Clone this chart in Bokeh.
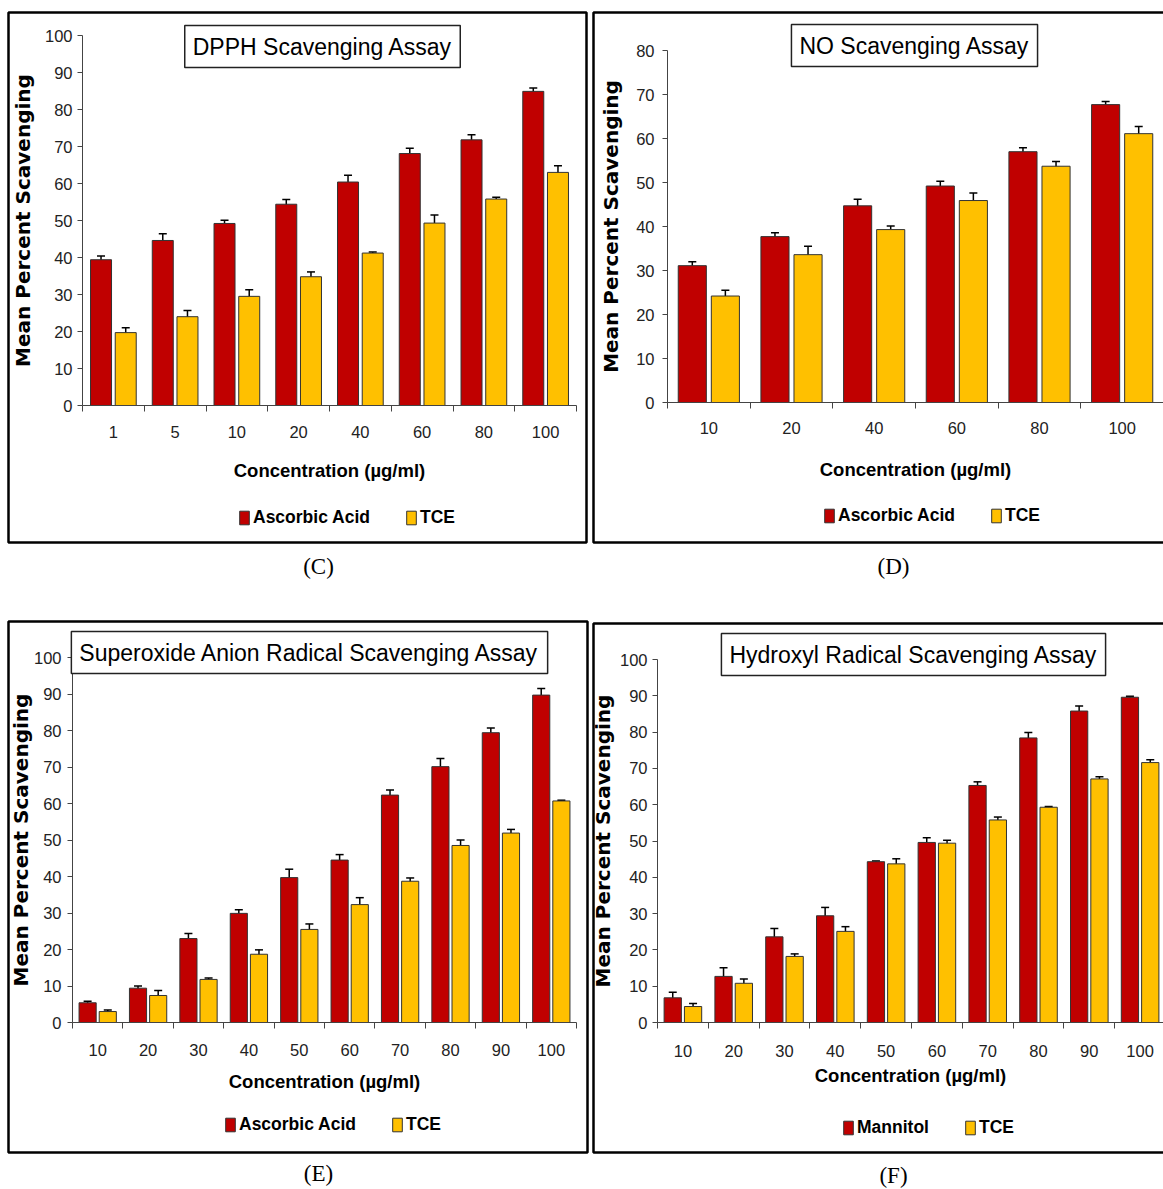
from bokeh.plotting import figure
from bokeh.models import (Range1d, FixedTicker, ColumnDataSource, Whisker, TeeHead,
                          Label, BoxAnnotation, Legend, LegendItem)
from bokeh.layouts import column, row
from bokeh.embed import file_html
from bokeh.resources import INLINE

# ---------------- data ----------------
# (C) DPPH
dpph_conc = ["1", "5", "10", "20", "40", "60", "80", "100"]
dpph_std = [39.4, 44.6, 49.2, 54.4, 60.4, 68.1, 71.8, 84.9]
dpph_std_err = [1.0, 1.8, 0.9, 1.3, 1.8, 1.4, 1.4, 0.9]
dpph_tce = [19.7, 24.0, 29.5, 34.8, 41.2, 49.3, 55.8, 63.0]
dpph_tce_err = [1.3, 1.7, 1.8, 1.3, 0.3, 2.2, 0.5, 1.8]

# (D) NO
no_conc = ["10", "20", "40", "60", "80", "100"]
no_std = [31.1, 37.7, 44.7, 49.2, 57.0, 67.7]
no_std_err = [0.9, 0.9, 1.5, 1.1, 0.9, 0.7]
no_tce = [24.2, 33.6, 39.3, 45.9, 53.7, 61.1]
no_tce_err = [1.3, 1.9, 0.8, 1.7, 1.1, 1.6]

# (E) Superoxide
sup_conc = ["10", "20", "30", "40", "50", "60", "70", "80", "90", "100"]
sup_std = [5.4, 9.4, 23.0, 29.9, 39.7, 44.5, 62.3, 70.1, 79.4, 89.7]
sup_std_err = [0.4, 0.6, 1.4, 1.0, 2.3, 1.5, 1.4, 2.2, 1.3, 1.8]
sup_tce = [3.0, 7.4, 11.8, 18.7, 25.5, 32.3, 38.7, 48.5, 51.9, 60.7]
sup_tce_err = [0.4, 1.4, 0.4, 1.2, 1.5, 1.9, 0.9, 1.5, 1.0, 0.2]

# (F) Hydroxyl
hyd_conc = ["10", "20", "30", "40", "50", "60", "70", "80", "90", "100"]
hyd_std = [6.8, 12.7, 23.6, 29.4, 44.3, 49.6, 65.3, 78.4, 85.8, 89.6]
hyd_std_err = [1.5, 2.4, 2.3, 2.3, 0.2, 1.3, 1.0, 1.5, 1.4, 0.3]
hyd_tce = [4.4, 10.8, 18.2, 25.1, 43.7, 49.4, 55.8, 59.3, 67.1, 71.6]
hyd_tce_err = [0.8, 1.2, 0.7, 1.3, 1.4, 0.8, 0.8, 0.2, 0.6, 0.8]

RED = "#C00000"
YEL = "#FFC000"
SANS = "Liberation Sans"


def make_panel(cats, std, std_err, tce, tce_err, std_name, title, tag, ymax, g):
    n = len(cats)
    W, H = g["w"], g["h"]
    # the frame covers the whole canvas; the axes sit at fixed locations inside it
    dx = n / (g["x1"] - g["x0"])
    dy = ymax / (g["y0"] - g["yt"])
    xr = Range1d(0.5 - g["x0"] * dx, 0.5 + (W - g["x0"]) * dx)
    yr = Range1d(-(H - g["y0"]) * dy, g["y0"] * dy)
    p = figure(width=W, height=H, x_range=xr, y_range=yr, output_backend="svg",
               toolbar_location=None, tools="", min_border=0)
    p.min_border_left = p.min_border_right = p.min_border_top = p.min_border_bottom = 0
    p.outline_line_color = None
    p.xgrid.visible = False
    p.ygrid.visible = False
    p.background_fill_color = "white"
    p.border_fill_color = "white"

    centers = list(range(1, n + 1))
    edges = [c - 0.5 for c in centers] + [n + 0.5]
    s1 = ColumnDataSource(dict(x=[c - 0.2 for c in centers], top=std,
                               upper=[v + e for v, e in zip(std, std_err)],
                               lower=[v - e for v, e in zip(std, std_err)]))
    s2 = ColumnDataSource(dict(x=[c + 0.2 for c in centers], top=tce,
                               upper=[v + e for v, e in zip(tce, tce_err)],
                               lower=[v - e for v, e in zip(tce, tce_err)]))
    r1 = p.vbar(x="x", top="top", bottom=0, width=0.34, source=s1, fill_color=RED,
                line_color="#333333", line_width=1)
    r2 = p.vbar(x="x", top="top", bottom=0, width=0.34, source=s2, fill_color=YEL,
                line_color="#333333", line_width=1)
    for s in (s1, s2):
        p.add_layout(Whisker(source=s, base="x", upper="upper", lower="lower",
                             line_color="black", line_width=1.5,
                             upper_head=TeeHead(size=8, line_color="black", line_width=1.5),
                             lower_head=TeeHead(size=8, line_color="black", line_width=1.5)))

    xa = p.xaxis[0]
    xa.fixed_location = 0
    xa.bounds = (0.5, n + 0.5)
    xa.ticker = FixedTicker(ticks=centers, minor_ticks=edges)
    xa.major_label_overrides = {c: lab for c, lab in zip(centers, cats)}
    xa.major_tick_line_color = None
    xa.major_tick_out = 6
    xa.major_tick_in = 0
    xa.minor_tick_line_color = "#444444"
    xa.minor_tick_out = 6
    xa.minor_tick_in = 0
    xa.axis_line_color = "#444444"
    xa.major_label_text_font = SANS
    xa.major_label_text_font_size = "16.5px"
    xa.major_label_text_color = "#222222"
    xa.major_label_standoff = g["xls"]
    xa.axis_label = "Concentration (µg/ml)"
    xa.axis_label_text_font = SANS
    xa.axis_label_text_font_style = "bold"
    xa.axis_label_text_font_size = "18.5px"
    xa.axis_label_text_color = "black"
    xa.axis_label_standoff = g["xas"]

    ya = p.yaxis[0]
    ya.fixed_location = 0.5
    ya.bounds = (0, ymax)
    ya.ticker = FixedTicker(ticks=list(range(0, ymax + 1, 10)), minor_ticks=[])
    ya.major_tick_out = 5
    ya.major_tick_in = 0
    ya.major_tick_line_color = "#444444"
    ya.minor_tick_line_color = None
    ya.axis_line_color = "#444444"
    ya.major_label_text_font = SANS
    ya.major_label_text_font_size = "16.5px"
    ya.major_label_text_color = "#222222"
    ya.major_label_standoff = g["yls"]
    ya.axis_label = "Mean Percent Scavenging"
    ya.axis_label_text_font = "DejaVu Sans"
    ya.axis_label_text_font_style = "bold"
    ya.axis_label_text_font_size = "20px"
    ya.axis_label_text_color = "black"
    ya.axis_label_standoff = g["yas"]

    p.add_layout(Label(x=g["tx"], y=g["ty"], x_units="screen", y_units="screen",
                       text=title, text_align="center", text_baseline="middle",
                       text_font=SANS, text_font_size="23px", text_color="black",
                       border_line_color="#222222", border_line_width=1.5,
                       background_fill_color="white", padding=8))

    legend = Legend(items=[LegendItem(label=std_name, renderers=[r1]),
                           LegendItem(label="TCE", renderers=[r2])],
                    location=(g["lx"], g["ly"]), orientation="horizontal",
                    spacing=35, padding=0, margin=0, border_line_color=None,
                    background_fill_alpha=0, glyph_width=12, glyph_height=17,
                    label_standoff=3, label_height=17,
                    label_text_font=SANS, label_text_font_style="bold",
                    label_text_font_size="17.5px", label_text_color="black")
    p.add_layout(legend)

    p.add_layout(BoxAnnotation(left=g["bl"], right=g["br"], top=g["bt"], bottom=g["bb"],
                               left_units="screen", right_units="screen",
                               top_units="screen", bottom_units="screen",
                               fill_color=None, fill_alpha=0,
                               line_color="black", line_alpha=1.0, line_width=2.5))

    p.add_layout(Label(x=g["cx"], y=g["cy"], x_units="screen", y_units="screen",
                       text=tag, text_align="center", text_baseline="middle",
                       text_font="Liberation Serif", text_font_size="23px",
                       text_color="black"))
    return p


# layout geometry (canvas pixels; label/box y values measured upward from the canvas bottom)
gC = dict(w=589, h=600, x0=82, x1=576, y0=405, yt=35, xls=14, xas=19, yls=5, yas=7,
          tx=322, ty=554, lx=238, ly=72, bl=8, br=586, bt=588, bb=58, cx=318, cy=34)
gD = dict(w=574, h=600, x0=78, x1=574, y0=402, yt=50, xls=13, xas=22, yls=8, yas=10,
          tx=325, ty=555, lx=234, ly=74, bl=4, br=590, bt=588, bb=58, cx=304, cy=34)
gE = dict(w=589, h=589, x0=72, x1=576, y0=422, yt=57, xls=15, xas=12, yls=6, yas=-2,
          tx=309, ty=537, lx=224, ly=54, bl=8, br=587, bt=568, bb=37, cx=318, cy=16)
gF = dict(w=574, h=589, x0=68, x1=576, y0=422, yt=59, xls=16, xas=5, yls=5, yas=2,
          tx=324, ty=535, lx=253, ly=51, bl=4, br=590, bt=566, bb=37, cx=304, cy=14)

pC = make_panel(dpph_conc, dpph_std, dpph_std_err, dpph_tce, dpph_tce_err,
                "Ascorbic Acid", "DPPH Scavenging Assay", "(C)", 100, gC)
pD = make_panel(no_conc, no_std, no_std_err, no_tce, no_tce_err,
                "Ascorbic Acid", "NO Scavenging Assay", "(D)", 80, gD)
pE = make_panel(sup_conc, sup_std, sup_std_err, sup_tce, sup_tce_err,
                "Ascorbic Acid", "Superoxide Anion Radical Scavenging Assay", "(E)", 100, gE)
pF = make_panel(hyd_conc, hyd_std, hyd_std_err, hyd_tce, hyd_tce_err,
                "Mannitol", "Hydroxyl Radical Scavenging Assay", "(F)", 100, gF)

layout = column(row(pC, pD), row(pE, pF))
open("out.html", "w").write(file_html(layout, INLINE))
